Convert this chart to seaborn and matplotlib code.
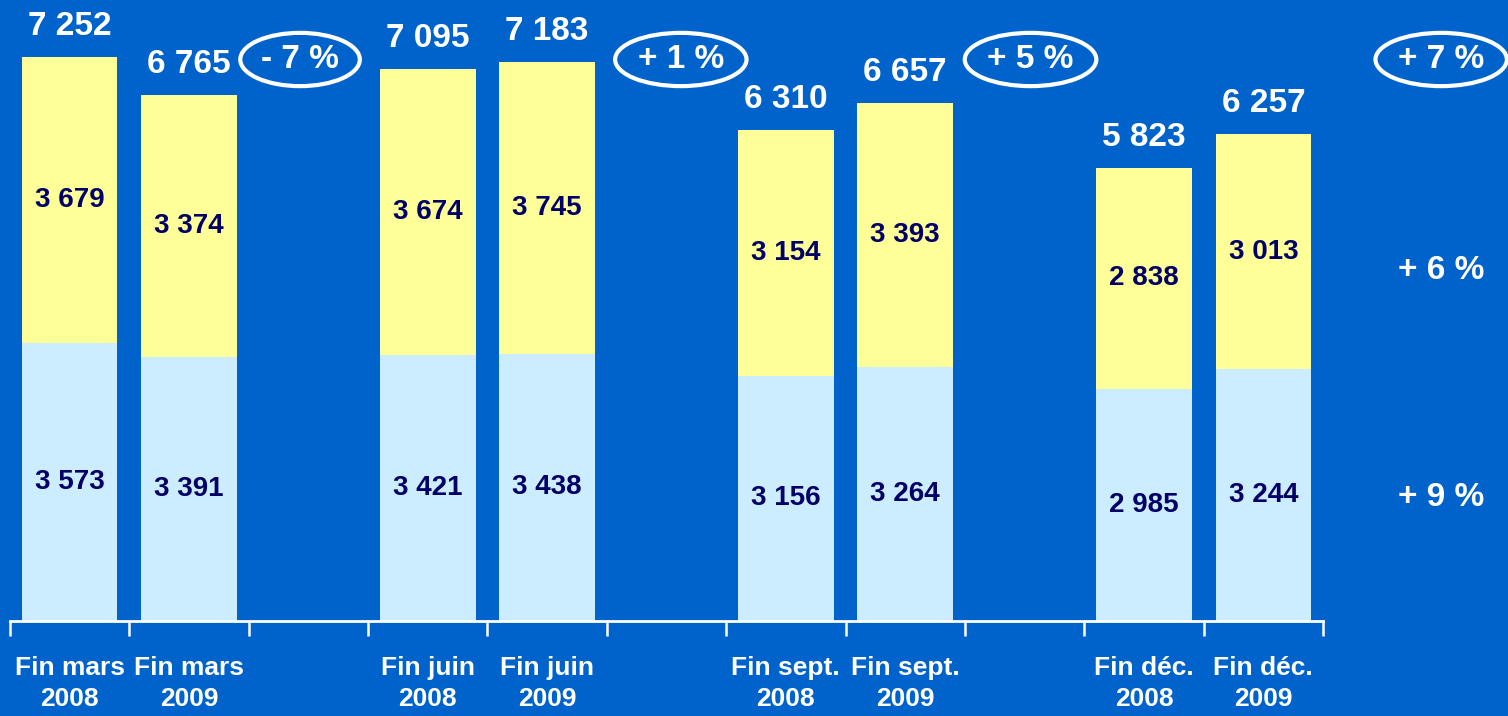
import pandas as pd
import seaborn as sns
import matplotlib.pyplot as plt

# data
periods = ["Fin mars\n2008", "Fin mars\n2009", "Fin juin\n2008", "Fin juin\n2009",
           "Fin sept.\n2008", "Fin sept.\n2009", "Fin déc.\n2008", "Fin déc.\n2009"]
lower = [3573, 3391, 3421, 3438, 3156, 3264, 2985, 3244]
upper = [3679, 3374, 3674, 3745, 3154, 3393, 2838, 3013]
totals = [7252, 6765, 7095, 7183, 6310, 6657, 5823, 6257]
pair_changes = ["- 7 %", "+ 1 %", "+ 5 %", "+ 7 %"]
segment_changes = ["+ 6 %", "+ 9 %"]

BG = "#0063CB"
YELLOW = "#FFFF99"
LIGHTBLUE = "#CCECFF"
NAVY = "#000066"

sns.set_style("white")
plt.rcParams["font.family"] = ["Liberation Sans Narrow", "Liberation Sans", "DejaVu Sans"]
plt.rcParams["font.weight"] = "bold"

df = pd.DataFrame({"period": periods, "lower": lower, "upper": upper, "total": totals})

# empty slots between the pairs
order = []
for i in range(0, len(periods), 2):
    order += [periods[i], periods[i + 1]]
    if i + 2 < len(periods):
        order.append(" " * (i // 2 + 1))

fig = plt.figure(figsize=(15.08, 7.16), dpi=100)
fig.patch.set_facecolor(BG)
ax = fig.add_axes([10 / 1508, 95 / 716, 1313 / 1508, 621 / 716])
ax.set_facecolor(BG)

sns.barplot(data=df, x="period", y="total", order=order, color=YELLOW,
            saturation=1, errorbar=None, width=0.8, linewidth=0, ax=ax)
sns.barplot(data=df, x="period", y="lower", order=order, color=LIGHTBLUE,
            saturation=1, errorbar=None, width=0.8, linewidth=0, ax=ax)

ax.set_xlim(-0.5, len(order) - 0.5)
ax.set_ylim(0, 7985)
ax.set_xlabel("")
ax.set_ylabel("")
ax.set_yticks([])

for sp in ["top", "right", "left"]:
    ax.spines[sp].set_visible(False)
ax.spines["bottom"].set_color("white")
ax.spines["bottom"].set_linewidth(2)

ax.set_xticks(range(len(order)))
ax.set_xticklabels(order, color="white", fontsize=19, fontweight="bold", linespacing=1.4)
ax.tick_params(axis="x", which="major", bottom=True, length=0, pad=25)
ax.set_xticks([k - 0.5 for k in range(len(order) + 1)], minor=True)
ax.tick_params(axis="x", which="minor", bottom=True, length=11, width=1.8,
               color="white", direction="out")

for _, r in df.iterrows():
    x = order.index(r["period"])
    ax.text(x, r["lower"] / 2, f"{r['lower']:,}".replace(",", " "), ha="center", va="center",
            color=NAVY, fontsize=20, fontweight="bold")
    ax.text(x, r["lower"] + r["upper"] / 2, f"{r['upper']:,}".replace(",", " "), ha="center",
            va="center", color=NAVY, fontsize=20, fontweight="bold")
    ax.annotate(f"{r['total']:,}".replace(",", " "), (x, r["total"]), xytext=(0, 22),
                textcoords="offset points", ha="center", va="center", color="white",
                fontsize=24, fontweight="bold", annotation_clip=False)

# variation bubbles
bubble_x = [1.93, 5.12, 8.05, 11.49]
for bx, txt in zip(bubble_x, pair_changes):
    ax.text(bx, 7220, txt, ha="center", va="center", color="white", fontsize=24,
            fontweight="bold", clip_on=False,
            bbox=dict(boxstyle="ellipse,pad=0.1", fc="none", ec="white", lw=3))

for yv, txt in zip([4513, 1594], segment_changes):
    ax.text(11.49, yv, txt, ha="center", va="center", color="white", fontsize=24,
            fontweight="bold", clip_on=False)

fig.savefig("out.png", dpi=100, facecolor=BG)
